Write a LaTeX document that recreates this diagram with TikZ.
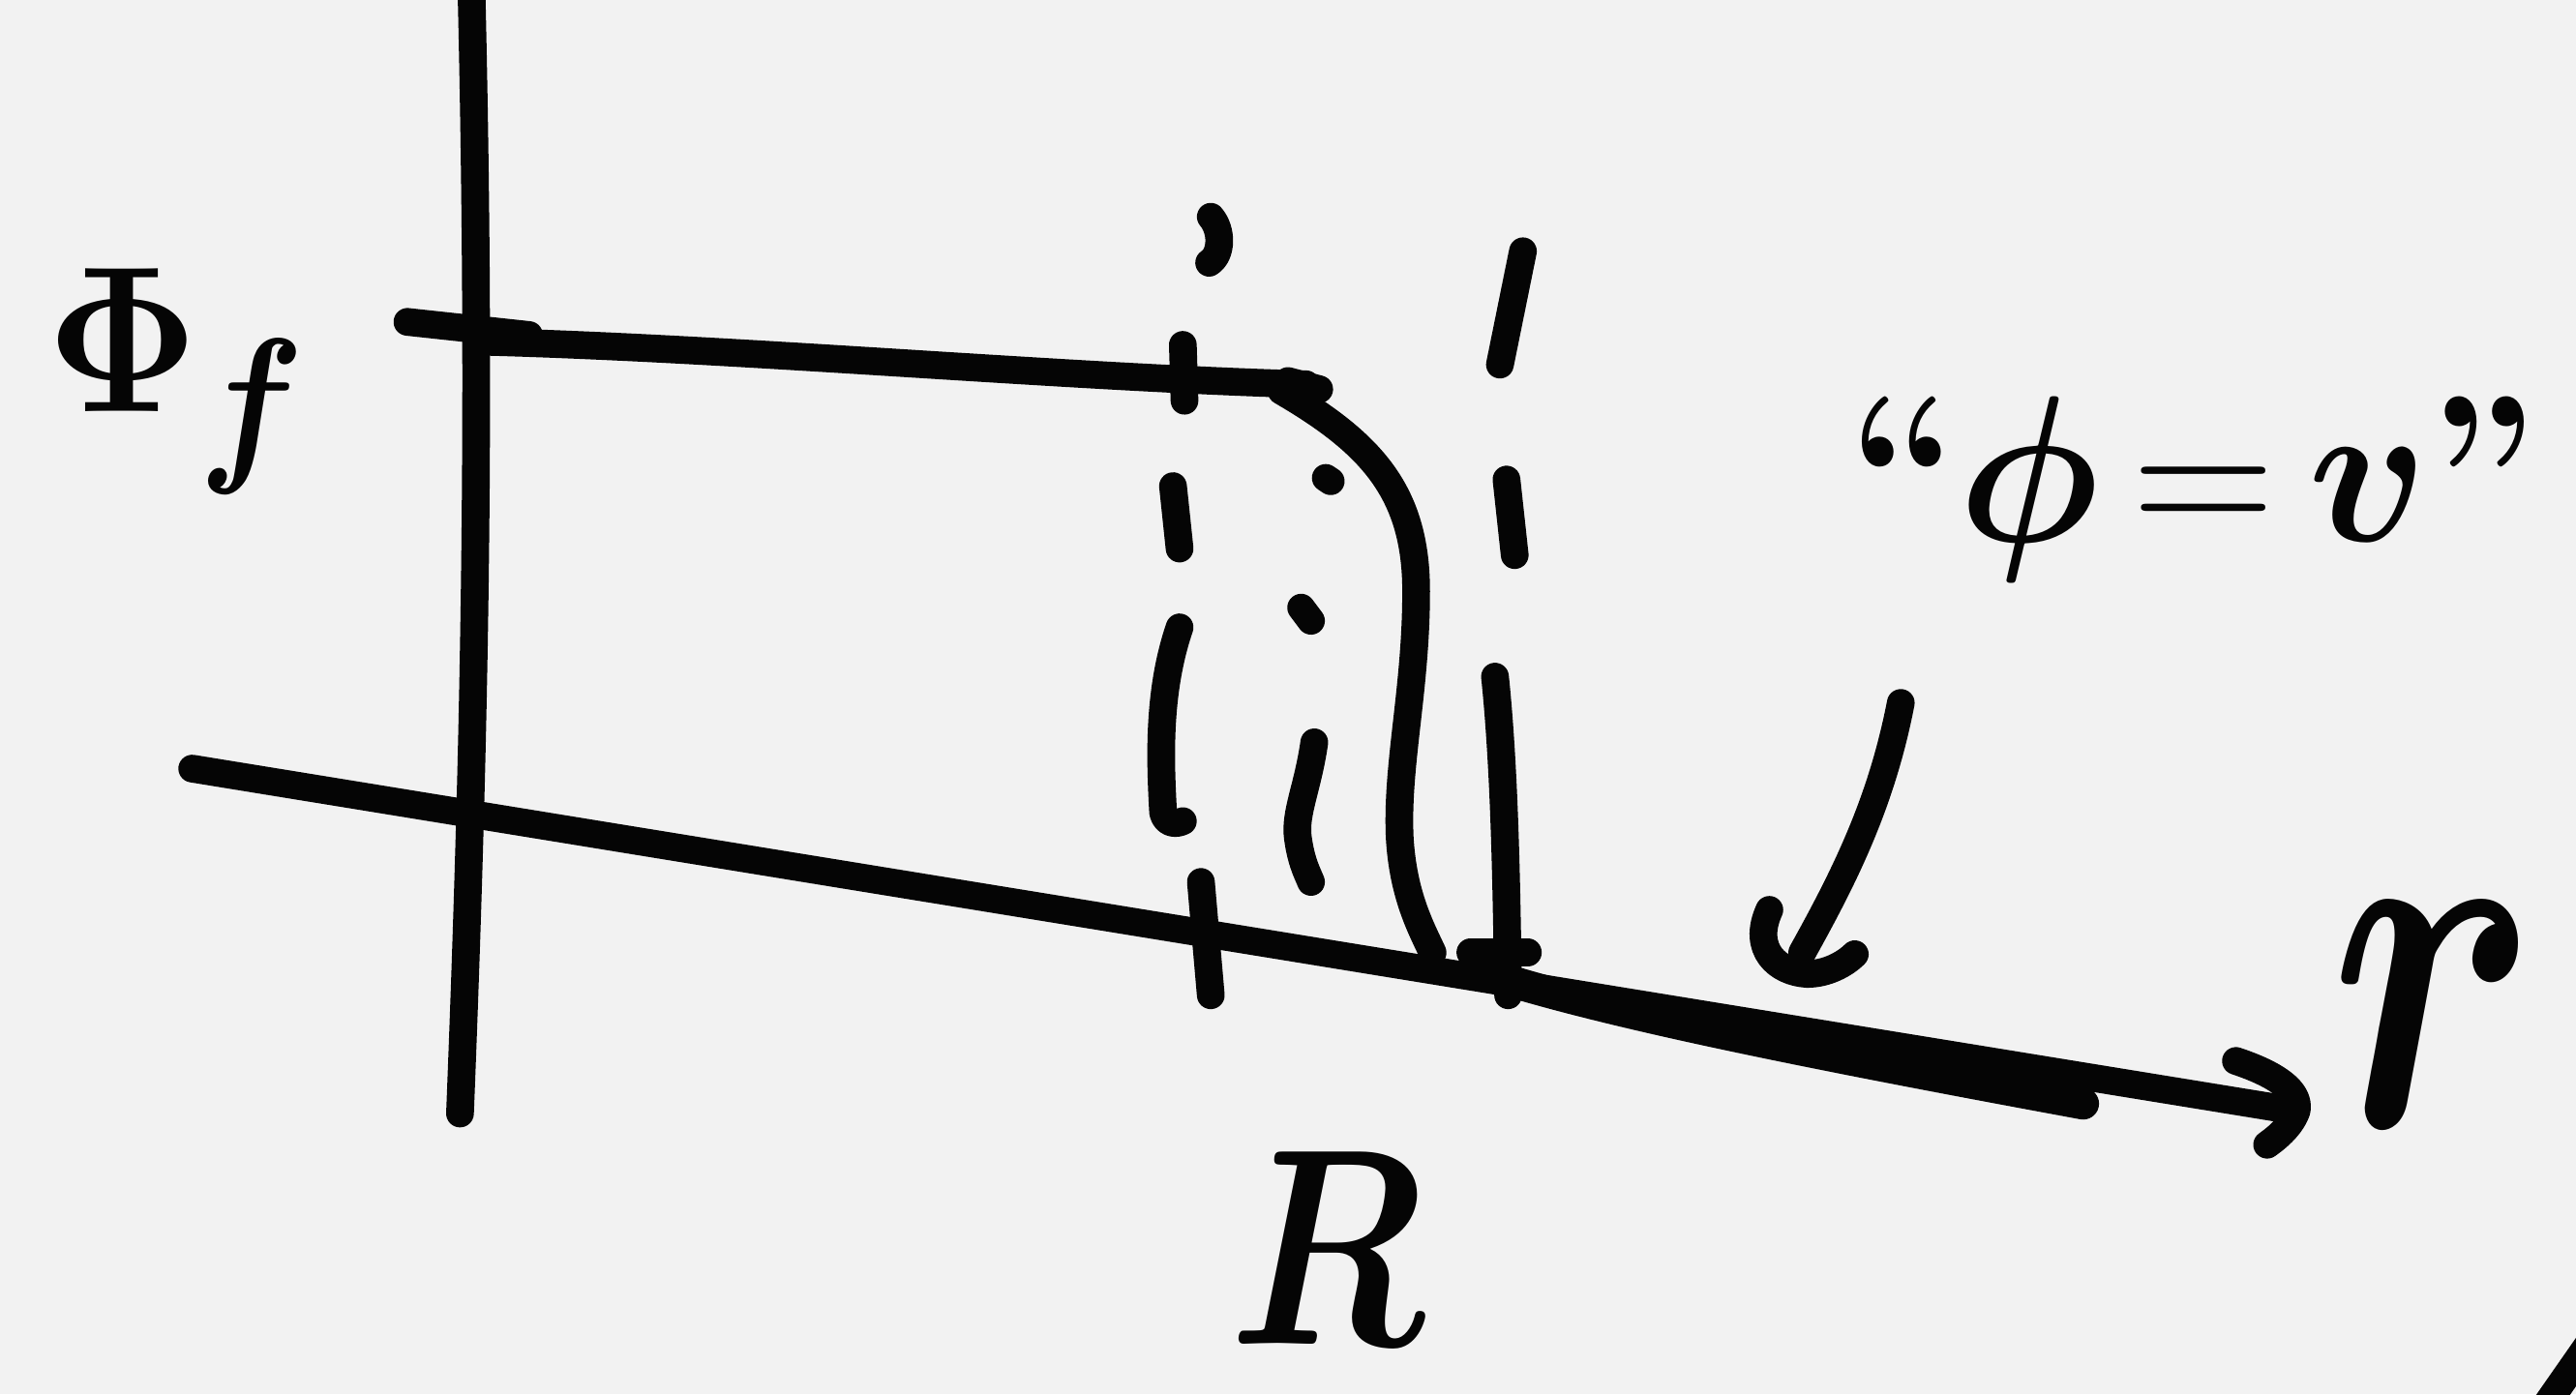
\documentclass[tikz,border=0pt]{standalone}
\usepackage{amsmath}
\definecolor{bgcol}{HTML}{F2F2F2}
\definecolor{ink}{HTML}{050505}
\begin{document}
\begin{tikzpicture}[x=0.01cm,y=-0.01cm,
  pen/.style={draw=ink,line width=4.8pt,line cap=round,line join=round},
  penthick/.style={draw=ink,line width=5.5pt,line cap=round,line join=round},
  lbl/.style={inner sep=0pt,text=ink,font=\Huge}]
\fill[bgcol] (0,0) rectangle (1568,849);
\useasboundingbox (0,0) rectangle (1568,849);
\clip (0,0) rectangle (1568,849);
% vertical axis
\draw[pen] (287,-5) .. controls (293,250) and (289,450) .. (280,678);
% Phi_f tick and level
\draw[pen] (248,196) -- (322,204);
\draw[pen] (292,208) .. controls (450,212) and (650,230) .. (795,234);
\draw[pen] (784,232) -- (803,237);
% profile curve
\draw[pen] (780,238) .. controls (835,270) and (862,300) .. (862,360)
  .. controls (862,420) and (850,465) .. (852,510)
  .. controls (854,545) and (865,565) .. (872,580);
% r axis with arrow
\draw[pen] (117,468) -- (1395,676);
\draw[pen] (1361,646) .. controls (1385,654) and (1400,664) .. (1398,676) .. controls (1395,685) and (1387,692) .. (1380,697);
\draw[penthick] (905,593) .. controls (980,617) and (1100,641) .. (1268,672);
% dashed line at R
\draw[pen] (737,132) .. controls (744,140) and (744,155) .. (736,160);
\draw[pen] (720,210) -- (721,244);
\draw[pen] (714,296) -- (718,334);
\draw[pen] (718,382) .. controls (705,420) and (706,460) .. (708,495) .. controls (710,502) and (716,502) .. (720,500);
\draw[pen] (731,537) -- (737,606);
% dotted line
\draw[pen] (807,291) -- (810,293);
\draw[pen] (792,370) -- (798,378);
\draw[pen] (800,452) .. controls (796,480) and (788,495) .. (790,510) .. controls (792,525) and (796,532) .. (798,537);
% right dashed line
\draw[pen] (927,153) -- (913,222);
\draw[pen] (917,292) -- (922,338);
\draw[pen] (910,412) .. controls (916,470) and (917,540) .. (918,606);
\draw[pen] (895,580) -- (930,580);
% arrow pointing at the axis
\draw[pen] (1157,428) .. controls (1145,490) and (1122,535) .. (1097,580);
\draw[pen] (1077,554) .. controls (1066,578) and (1082,592) .. (1100,593)
  .. controls (1112,593) and (1123,587) .. (1129,581);
% corner stroke
\draw[pen] (1548,858) -- (1578,815);
% labels
\node[lbl] (phif) at (108,232) {\scalebox{1.3}[1.45]{$\boldsymbol{\Phi}_{\boldsymbol{f}}$}};
\node[lbl] (law) at (1335,298) {\scalebox{1.38}[1.45]{\bfseries``$\boldsymbol{\phi}\,{=}\,\boldsymbol{v}$''}};
\node[lbl] (R) at (808,760) {\scalebox{1.55}[1.95]{$\boldsymbol{R}$}};
\node[lbl] (r) at (1482,618) {\scalebox{2.6}[3.5]{$\boldsymbol{r}$}};
\end{tikzpicture}
\end{document}
